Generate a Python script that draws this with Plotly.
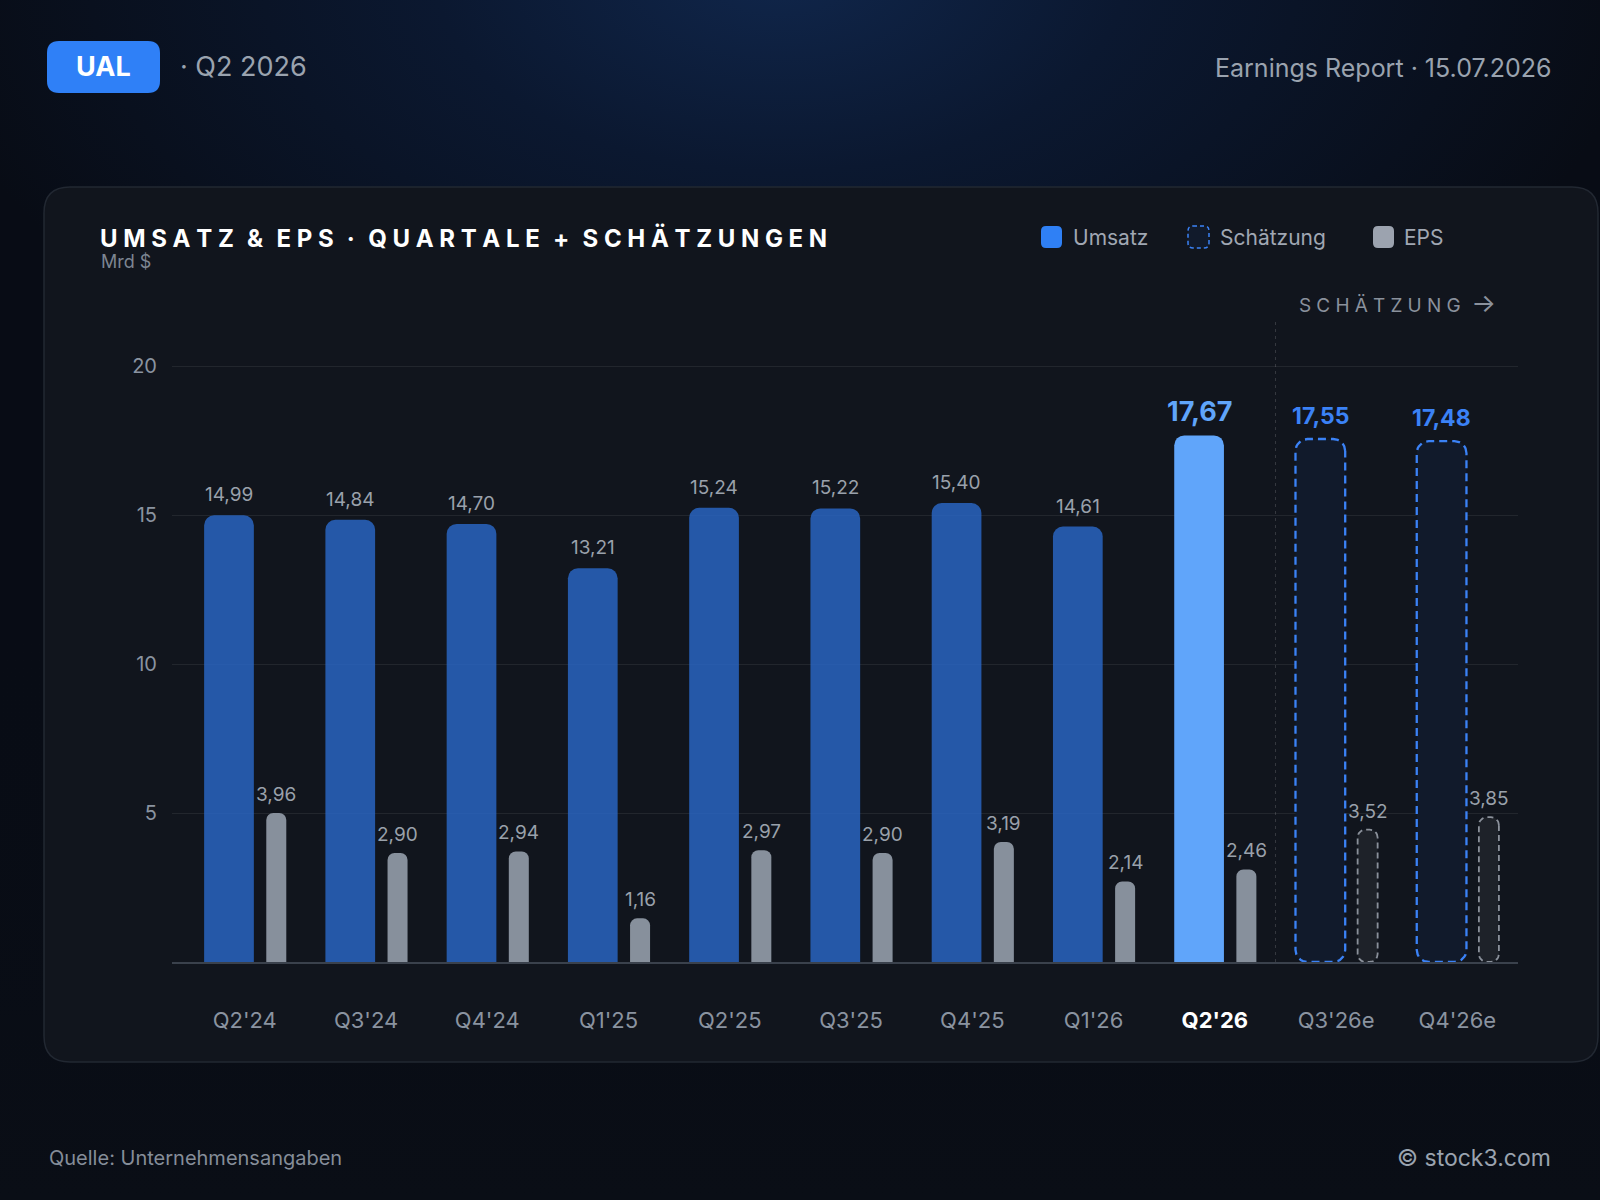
import base64
import math
import plotly.graph_objects as go

# ---------------- data ----------------
quarters = ["Q2'24", "Q3'24", "Q4'24", "Q1'25", "Q2'25", "Q3'25", "Q4'25", "Q1'26", "Q2'26", "Q3'26e", "Q4'26e"]
revenue = [14.99, 14.84, 14.70, 13.21, 15.24, 15.22, 15.40, 14.61, 17.67, 17.55, 17.48]
eps = [3.96, 2.90, 2.94, 1.16, 2.97, 2.90, 3.19, 2.14, 2.46, 3.52, 3.85]
n_actual = 9          # first 9 quarters are reported, rest are estimates
current_idx = 8       # Q2'26 highlighted
y_ticks = [5, 10, 15, 20]

W, H = 1600, 1200
FONT = "Inter"

def fmt(v):
    return f"{v:.2f}".replace(".", ",")

def spaced(s, sep="\u2009"):
    return sep.join(list(s))

def px(x):
    return x / W

def py(y):
    return 1 - y / H

# plot geometry (pixels)
PL, PR = 172, 1518
PB = 962
PX_PER_UNIT = 29.8
Y_MAX = 20.5
PT = PB - Y_MAX * PX_PER_UNIT
EPS_RANGE = max(eps) * 4 * Y_MAX / 20
CAT_PX = (PR - PL) / 11.1
X_RANGE = [-0.6, 10.5]

REV_OFF, REV_W = -0.13, 0.41
EPS_OFF, EPS_W = 0.26, 0.165

x_idx = list(range(len(quarters)))

# ---------------- background ----------------
svg = (
    '<svg xmlns="http://www.w3.org/2000/svg" width="1600" height="1200" viewBox="0 0 1600 1200">'
    '<defs><radialGradient id="g" cx="780" cy="-30" r="720" gradientUnits="userSpaceOnUse" '
    'gradientTransform="translate(780,-30) scale(1.2,0.7) translate(-780,30)">'
    '<stop offset="0" stop-color="#10264b"/><stop offset="0.4" stop-color="#0b1830"/>'
    '<stop offset="1" stop-color="#080c15"/></radialGradient>'
    '<linearGradient id="b" x1="0" y1="0" x2="0" y2="1"><stop offset="0" stop-color="#080c15" stop-opacity="0"/>'
    '<stop offset="1" stop-color="#0a0e16" stop-opacity="1"/></linearGradient></defs>'
    '<rect width="1600" height="1200" fill="url(#g)"/>'
    '<rect y="600" width="1600" height="600" fill="url(#b)"/></svg>'
)
bg_src = "data:image/svg+xml;base64," + base64.b64encode(svg.encode()).decode()


def rrect_paper(x0, y0, x1, y1, r):
    """Rounded rectangle path in paper coordinates from pixel box."""
    rx, ry = r / W, r / H
    X0, X1 = px(x0), px(x1)
    Y0, Y1 = py(y1), py(y0)  # bottom, top
    return (f"M {X0+rx},{Y1} L {X1-rx},{Y1} Q {X1},{Y1} {X1},{Y1-ry} "
            f"L {X1},{Y0+ry} Q {X1},{Y0} {X1-rx},{Y0} L {X0+rx},{Y0} "
            f"Q {X0},{Y0} {X0},{Y0+ry} L {X0},{Y1-ry} Q {X0},{Y1} {X0+rx},{Y1} Z")


def rounded_outline(xc, width, top, r_px, units_per_px_y, n=8):
    """Outline of a bar with rounded corners, in data units."""
    x0, x1 = xc - width / 2, xc + width / 2
    rx = r_px / CAT_PX
    ry = min(r_px * units_per_px_y, top / 2)
    xs, ys = [], []
    corners = [
        (x1 - rx, top - ry, 0, 90),
        (x0 + rx, top - ry, 90, 180),
        (x0 + rx, 0 + ry, 180, 270),
        (x1 - rx, 0 + ry, 270, 360),
    ]
    for cx, cy, a0, a1 in corners:
        for k in range(n + 1):
            a = math.radians(a0 + (a1 - a0) * k / n)
            xs.append(cx + rx * math.cos(a))
            ys.append(cy + ry * math.sin(a))
    xs.append(xs[0]); ys.append(ys[0])
    return xs, ys


fig = go.Figure()

# ---------------- actual bars ----------------
rev_colors = ["rgba(41,104,199,0.82)"] * n_actual
rev_colors[current_idx] = "#60a5fa"
fig.add_trace(go.Bar(
    x=x_idx[:n_actual], y=revenue[:n_actual], width=REV_W, offset=REV_OFF - REV_W / 2,
    marker=dict(color=rev_colors, cornerradius=10, line=dict(width=0)),
    hoverinfo="skip", showlegend=False, yaxis="y"))
fig.add_trace(go.Bar(
    x=x_idx[:n_actual], y=eps[:n_actual], width=EPS_W, offset=EPS_OFF - EPS_W / 2,
    marker=dict(color="#87909c", cornerradius=7, line=dict(width=0)),
    hoverinfo="skip", showlegend=False, yaxis="y2"))

# ---------------- estimate bars (dashed outlines) ----------------
eps_units_per_px = EPS_RANGE / (Y_MAX * PX_PER_UNIT)
for i in range(n_actual, len(quarters)):
    xs, ys = rounded_outline(i + REV_OFF, REV_W, revenue[i], 12, 1 / PX_PER_UNIT)
    fig.add_trace(go.Scatter(
        x=xs, y=ys, mode="lines", fill="toself", fillcolor="#111a2b",
        line=dict(color="#3b82f6", width=2.3, dash="8px,5px"),
        hoverinfo="skip", showlegend=False, yaxis="y"))
    xs, ys = rounded_outline(i + EPS_OFF, EPS_W, eps[i], 8, eps_units_per_px)
    fig.add_trace(go.Scatter(
        x=xs, y=ys, mode="lines", fill="toself", fillcolor="#1e2229",
        line=dict(color="#8b919b", width=1.8, dash="6px,4px"),
        hoverinfo="skip", showlegend=False, yaxis="y2"))

# ---------------- value labels ----------------
annotations = []
for i, v in enumerate(revenue):
    if i < current_idx:
        font = dict(family=FONT, size=19, color="#9aa1ab"); ys = 7
        txt = fmt(v)
    elif i == current_idx:
        font = dict(family=FONT, size=27, color="#60a5fa"); ys = 5
        txt = f"<b>{fmt(v)}</b>"
    else:
        font = dict(family=FONT, size=23, color="#3b82f6"); ys = 7
        txt = f"<b>{fmt(v)}</b>"
    annotations.append(dict(x=i + REV_OFF, y=v, xref="x", yref="y", text=txt, showarrow=False,
                            yanchor="bottom", yshift=ys, font=font))
for i, v in enumerate(eps):
    annotations.append(dict(x=i + EPS_OFF, y=v, xref="x", yref="y2", text=fmt(v), showarrow=False,
                            yanchor="bottom", yshift=5, font=dict(family=FONT, size=19, color="#9aa1ab")))

title_txt = "\u00a0\u00a0\u200a".join(spaced(w, "\u2009\u200a") for w in "UMSATZ & EPS · QUARTALE + SCHÄTZUNGEN".split(" "))

# ---------------- header / text ----------------
annotations += [
    dict(x=px(103.5), y=py(67), xref="paper", yref="paper", text="<b>UAL</b>", showarrow=False,
         xanchor="center", yanchor="middle", font=dict(family=FONT, size=27, color="#ffffff")),
    dict(x=px(178), y=py(67), xref="paper", yref="paper", text="· Q2 2026", showarrow=False,
         xanchor="left", yanchor="middle", font=dict(family=FONT, size=27, color="#9aa3af")),
    dict(x=px(1553), y=py(68), xref="paper", yref="paper", text="Earnings Report · 15.07.2026",
         showarrow=False, xanchor="right", yanchor="middle", font=dict(family=FONT, size=25, color="#9aa3af")),
    dict(x=px(98), y=py(238), xref="paper", yref="paper", text="<b>" + title_txt + "</b>",
         showarrow=False, xanchor="left", yanchor="middle", font=dict(family=FONT, size=24, color="#ffffff")),
    dict(x=px(99), y=py(262), xref="paper", yref="paper", text="Mrd $", showarrow=False,
         xanchor="left", yanchor="middle", font=dict(family=FONT, size=18, color="#7d8592")),
    dict(x=px(1297), y=py(303), xref="paper", yref="paper",
         text=spaced("SCHÄTZUNG", "\u2009\u200a") + "\u00a0\u00a0<span style='font-size:26px'>→</span>",
         showarrow=False, xanchor="left", yanchor="middle", font=dict(family=FONT, size=19, color="#8a919c")),
    dict(x=px(47), y=py(1158), xref="paper", yref="paper", text="Quelle: Unternehmensangaben",
         showarrow=False, xanchor="left", yanchor="middle", font=dict(family=FONT, size=20, color="#858d99")),
    dict(x=px(1553), y=py(1158), xref="paper", yref="paper", text="© stock3.com",
         showarrow=False, xanchor="right", yanchor="middle", font=dict(family=FONT, size=23, color="#9aa3af")),
    # legend texts
    dict(x=px(1071), y=py(237), xref="paper", yref="paper", text="Umsatz", showarrow=False,
         xanchor="left", yanchor="middle", font=dict(family=FONT, size=21, color="#a0a7b3")),
    dict(x=px(1218), y=py(237), xref="paper", yref="paper", text="Schätzung", showarrow=False,
         xanchor="left", yanchor="middle", font=dict(family=FONT, size=21, color="#a0a7b3")),
    dict(x=px(1402), y=py(237), xref="paper", yref="paper", text="EPS", showarrow=False,
         xanchor="left", yanchor="middle", font=dict(family=FONT, size=21, color="#a0a7b3")),
]

shapes = [
    # card
    dict(type="path", xref="paper", yref="paper", path=rrect_paper(44, 187, 1598, 1062, 26),
         fillcolor="#11151d", line=dict(color="#222832", width=1.5), layer="below"),
    # badge
    dict(type="path", xref="paper", yref="paper", path=rrect_paper(47, 41, 160, 93, 12),
         fillcolor="#2f80f7", line=dict(width=0), layer="below"),
    # legend swatches
    dict(type="path", xref="paper", yref="paper", path=rrect_paper(1041, 226, 1062, 248, 5),
         fillcolor="#2f80f5", line=dict(width=0), layer="above"),
    dict(type="path", xref="paper", yref="paper", path=rrect_paper(1188, 226, 1209, 248, 5),
         fillcolor="#111a2b", line=dict(color="#3b82f6", width=1.5, dash="4px,3px"), layer="above"),
    dict(type="path", xref="paper", yref="paper", path=rrect_paper(1373, 226, 1394, 248, 5),
         fillcolor="#9ca3af", line=dict(width=0), layer="above"),
    # divider between actual and estimates
    dict(type="line", xref="x", yref="paper", x0=n_actual - 0.5, x1=n_actual - 0.5,
         y0=py(PB), y1=py(320), line=dict(color="rgba(255,255,255,0.16)", width=1, dash="3px,4px"),
         layer="below"),
]

ticktext = [q if i != current_idx else f"<b><span style='color:#ffffff'>{q}</span></b>"
            for i, q in enumerate(quarters)]

fig.update_layout(
    width=W, height=H, margin=dict(l=0, r=0, t=0, b=0),
    paper_bgcolor="#0a0e16", plot_bgcolor="rgba(0,0,0,0)",
    barmode="overlay", showlegend=False,
    font=dict(family=FONT),
    images=[dict(source=bg_src, xref="paper", yref="paper", x=0, y=1, sizex=1, sizey=1,
                 sizing="stretch", xanchor="left", yanchor="top", layer="below")],
    xaxis=dict(domain=[px(PL), px(PR)], range=X_RANGE, tickvals=x_idx, ticktext=ticktext,
               showgrid=False, zeroline=False, showline=True, linecolor="#3a414c", linewidth=1.5,
               ticks="", ticklabelstandoff=38, tickfont=dict(family=FONT, size=22, color="#8a93a0"),
               fixedrange=True),
    yaxis=dict(domain=[py(PB), py(PT)], range=[0, Y_MAX], tickvals=y_ticks,
               ticktext=[str(t) for t in y_ticks], showgrid=True, gridcolor="rgba(255,255,255,0.075)",
               gridwidth=1, zeroline=False, showline=False, ticks="", ticklabelstandoff=14,
               tickfont=dict(family=FONT, size=20, color="#8a93a0"), fixedrange=True),
    yaxis2=dict(overlaying="y", range=[0, EPS_RANGE], visible=False, showgrid=False, zeroline=False,
                fixedrange=True),
    annotations=annotations, shapes=shapes,
)

fig.write_html("out.html")
